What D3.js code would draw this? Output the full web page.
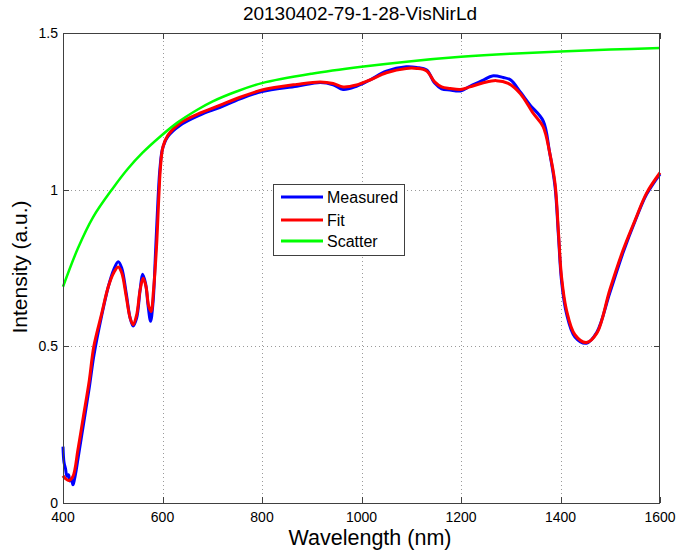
<!DOCTYPE html>
<html><head><meta charset="utf-8">
<script src="https://cdn.jsdelivr.net/npm/d3@7"></script>
<style>body{margin:0;background:#fff}svg{display:block}text{font-family:"Liberation Sans",Arial,sans-serif;fill:#000}</style>
</head><body>
<svg id="c" width="677" height="552"></svg>
<script>
const titleText = "20130402-79-1-28-VisNirLd";
const xLabel = "Wavelength (nm)";
const yLabel = "Intensity (a.u.)";
const xTicks = [400, 600, 800, 1000, 1200, 1400, 1600];
const yTicks = [0, 0.5, 1, 1.5];
const yTickLabels = ["0", "0.5", "1", "1.5"];
const seriesNames = ["Measured", "Fit", "Scatter"];
const seriesColors = ["#0000ff", "#ff0000", "#00ff00"];

const measuredWl = [400,402,405,408,411,414,417,420,423,426,430,441,453,462,478,491,502,511,518,527,535,541,548,555,560,566,571,576,581,586,591,595,600,611,635,675,716,756,800,870,917,943,963,990,1017,1050,1090,1111,1131,1147,1161,1178,1199,1218,1245,1263,1285,1300,1320,1339,1365,1378,1389,1396,1402,1412,1429,1452,1473,1499,1526,1550,1573,1600];
const measuredVal = [0.18,0.13,0.11,0.085,0.09,0.07,0.075,0.058,0.075,0.10,0.14,0.25,0.37,0.47,0.60,0.69,0.745,0.77,0.75,0.67,0.59,0.565,0.59,0.68,0.73,0.70,0.63,0.58,0.64,0.80,0.97,1.07,1.13,1.17,1.205,1.238,1.263,1.29,1.313,1.33,1.342,1.335,1.32,1.33,1.35,1.378,1.392,1.39,1.382,1.34,1.322,1.318,1.315,1.33,1.35,1.363,1.358,1.35,1.31,1.27,1.22,1.12,1.01,0.85,0.71,0.605,0.53,0.51,0.545,0.67,0.80,0.90,0.985,1.05];

const fitWl = [400,405,412,420,430,441,453,462,478,491,502,511,518,527,535,541,548,555,561,567,572,577,582,588,593,596,601,611,635,675,716,756,800,870,917,943,963,990,1017,1050,1090,1111,1131,1147,1161,1178,1199,1218,1245,1271,1295,1319,1345,1365,1378,1389,1396,1402,1412,1429,1452,1473,1499,1526,1550,1573,1600];
const fitVal = [0.087,0.078,0.072,0.085,0.17,0.276,0.393,0.5,0.606,0.69,0.735,0.753,0.735,0.66,0.59,0.569,0.6,0.68,0.717,0.69,0.63,0.611,0.68,0.818,0.99,1.073,1.137,1.174,1.212,1.244,1.27,1.295,1.318,1.336,1.344,1.339,1.328,1.334,1.35,1.373,1.387,1.387,1.379,1.344,1.328,1.323,1.32,1.328,1.341,1.348,1.339,1.307,1.244,1.201,1.12,1.02,0.861,0.723,0.616,0.537,0.512,0.542,0.68,0.808,0.903,0.989,1.054];

const scatterWl = [400,430,460,500,530,560,595,630,670,700,750,800,900,1000,1100,1200,1300,1400,1500,1600];
const scatterVal = [0.69,0.813,0.911,1.004,1.066,1.118,1.169,1.214,1.255,1.281,1.314,1.340,1.370,1.392,1.410,1.424,1.434,1.441,1.447,1.452];

const svg = d3.select("#c");
const L = 63, R = 660, T = 33, B = 503;
const x = d3.scaleLinear().domain([400, 1600]).range([L, R]);
const y = d3.scaleLinear().domain([0, 1.5]).range([B, T]);
const axisCol = "#404040";

// grid
const g = svg.append("g");
g.selectAll(".gx").data(xTicks.slice(1, -1)).enter().append("line")
  .attr("x1", d => Math.round(x(d)) + 0.5).attr("x2", d => Math.round(x(d)) + 0.5).attr("y1", T).attr("y2", B)
  .attr("stroke", "#9a9a9a").attr("stroke-width", 1).attr("stroke-dasharray", "1,3");
g.selectAll(".gy").data(yTicks.slice(1, -1)).enter().append("line")
  .attr("y1", d => Math.round(y(d)) + 0.5).attr("y2", d => Math.round(y(d)) + 0.5).attr("x1", L).attr("x2", R)
  .attr("stroke", "#9a9a9a").attr("stroke-width", 1).attr("stroke-dasharray", "1,3");

// lines
const mk = (wl, v) => wl.map((w, i) => [w, v[i]]);
const line = d3.line().x(d => x(d[0])).y(d => y(d[1])).curve(d3.curveCatmullRom.alpha(0.5));
const data = [mk(measuredWl, measuredVal), mk(fitWl, fitVal), mk(scatterWl, scatterVal)];
const widths = [3, 3, 2.5];
data.forEach((d, i) => {
  svg.append("path").attr("d", line(d)).attr("fill", "none")
    .attr("stroke", seriesColors[i]).attr("stroke-width", widths[i])
    .attr("stroke-linejoin", "round");
});

// axes box
svg.append("rect").attr("x", L + 0.5).attr("y", T + 0.5).attr("width", R - L - 1).attr("height", B - T)
  .attr("fill", "none").attr("stroke", axisCol).attr("stroke-width", 1);

const tk = 6;
xTicks.forEach(t => {
  const px = Math.round(x(t)) + 0.5;
  svg.append("line").attr("x1", px).attr("x2", px).attr("y1", B).attr("y2", B - tk).attr("stroke", axisCol);
  svg.append("line").attr("x1", px).attr("x2", px).attr("y1", T).attr("y2", T + tk).attr("stroke", axisCol);
  svg.append("text").attr("x", x(t)).attr("y", 522).attr("text-anchor", "middle")
    .attr("font-size", 14).text(t);
});
yTicks.forEach((t, i) => {
  const py = Math.round(y(t)) + 0.5;
  svg.append("line").attr("x1", L).attr("x2", L + tk).attr("y1", py).attr("y2", py).attr("stroke", axisCol);
  svg.append("line").attr("x1", R).attr("x2", R - tk).attr("y1", py).attr("y2", py).attr("stroke", axisCol);
  svg.append("text").attr("x", 58).attr("y", y(t) + 5).attr("text-anchor", "end")
    .attr("font-size", 14).text(yTickLabels[i]);
});

// title and labels
svg.append("text").attr("x", 360).attr("y", 20).attr("text-anchor", "middle").attr("font-size", 19).text(titleText);
svg.append("text").attr("x", 370).attr("y", 545).attr("text-anchor", "middle").attr("font-size", 21.5).text(xLabel);
svg.append("text").attr("transform", "translate(27,267) rotate(-90)").attr("text-anchor", "middle").attr("font-size", 21).text(yLabel);

// legend
const lg = svg.append("g");
lg.append("rect").attr("x", 273.5).attr("y", 184.5).attr("width", 131).attr("height", 71)
  .attr("fill", "#fff").attr("stroke", axisCol);
const rows = [197, 220, 241];
seriesNames.forEach((n, i) => {
  lg.append("line").attr("x1", 281).attr("x2", 323).attr("y1", rows[i]).attr("y2", rows[i])
    .attr("stroke", seriesColors[i]).attr("stroke-width", 3);
  lg.append("text").attr("x", 327).attr("y", rows[i] + 5.5).attr("font-size", 16).text(n);
});
</script>
</body></html>
